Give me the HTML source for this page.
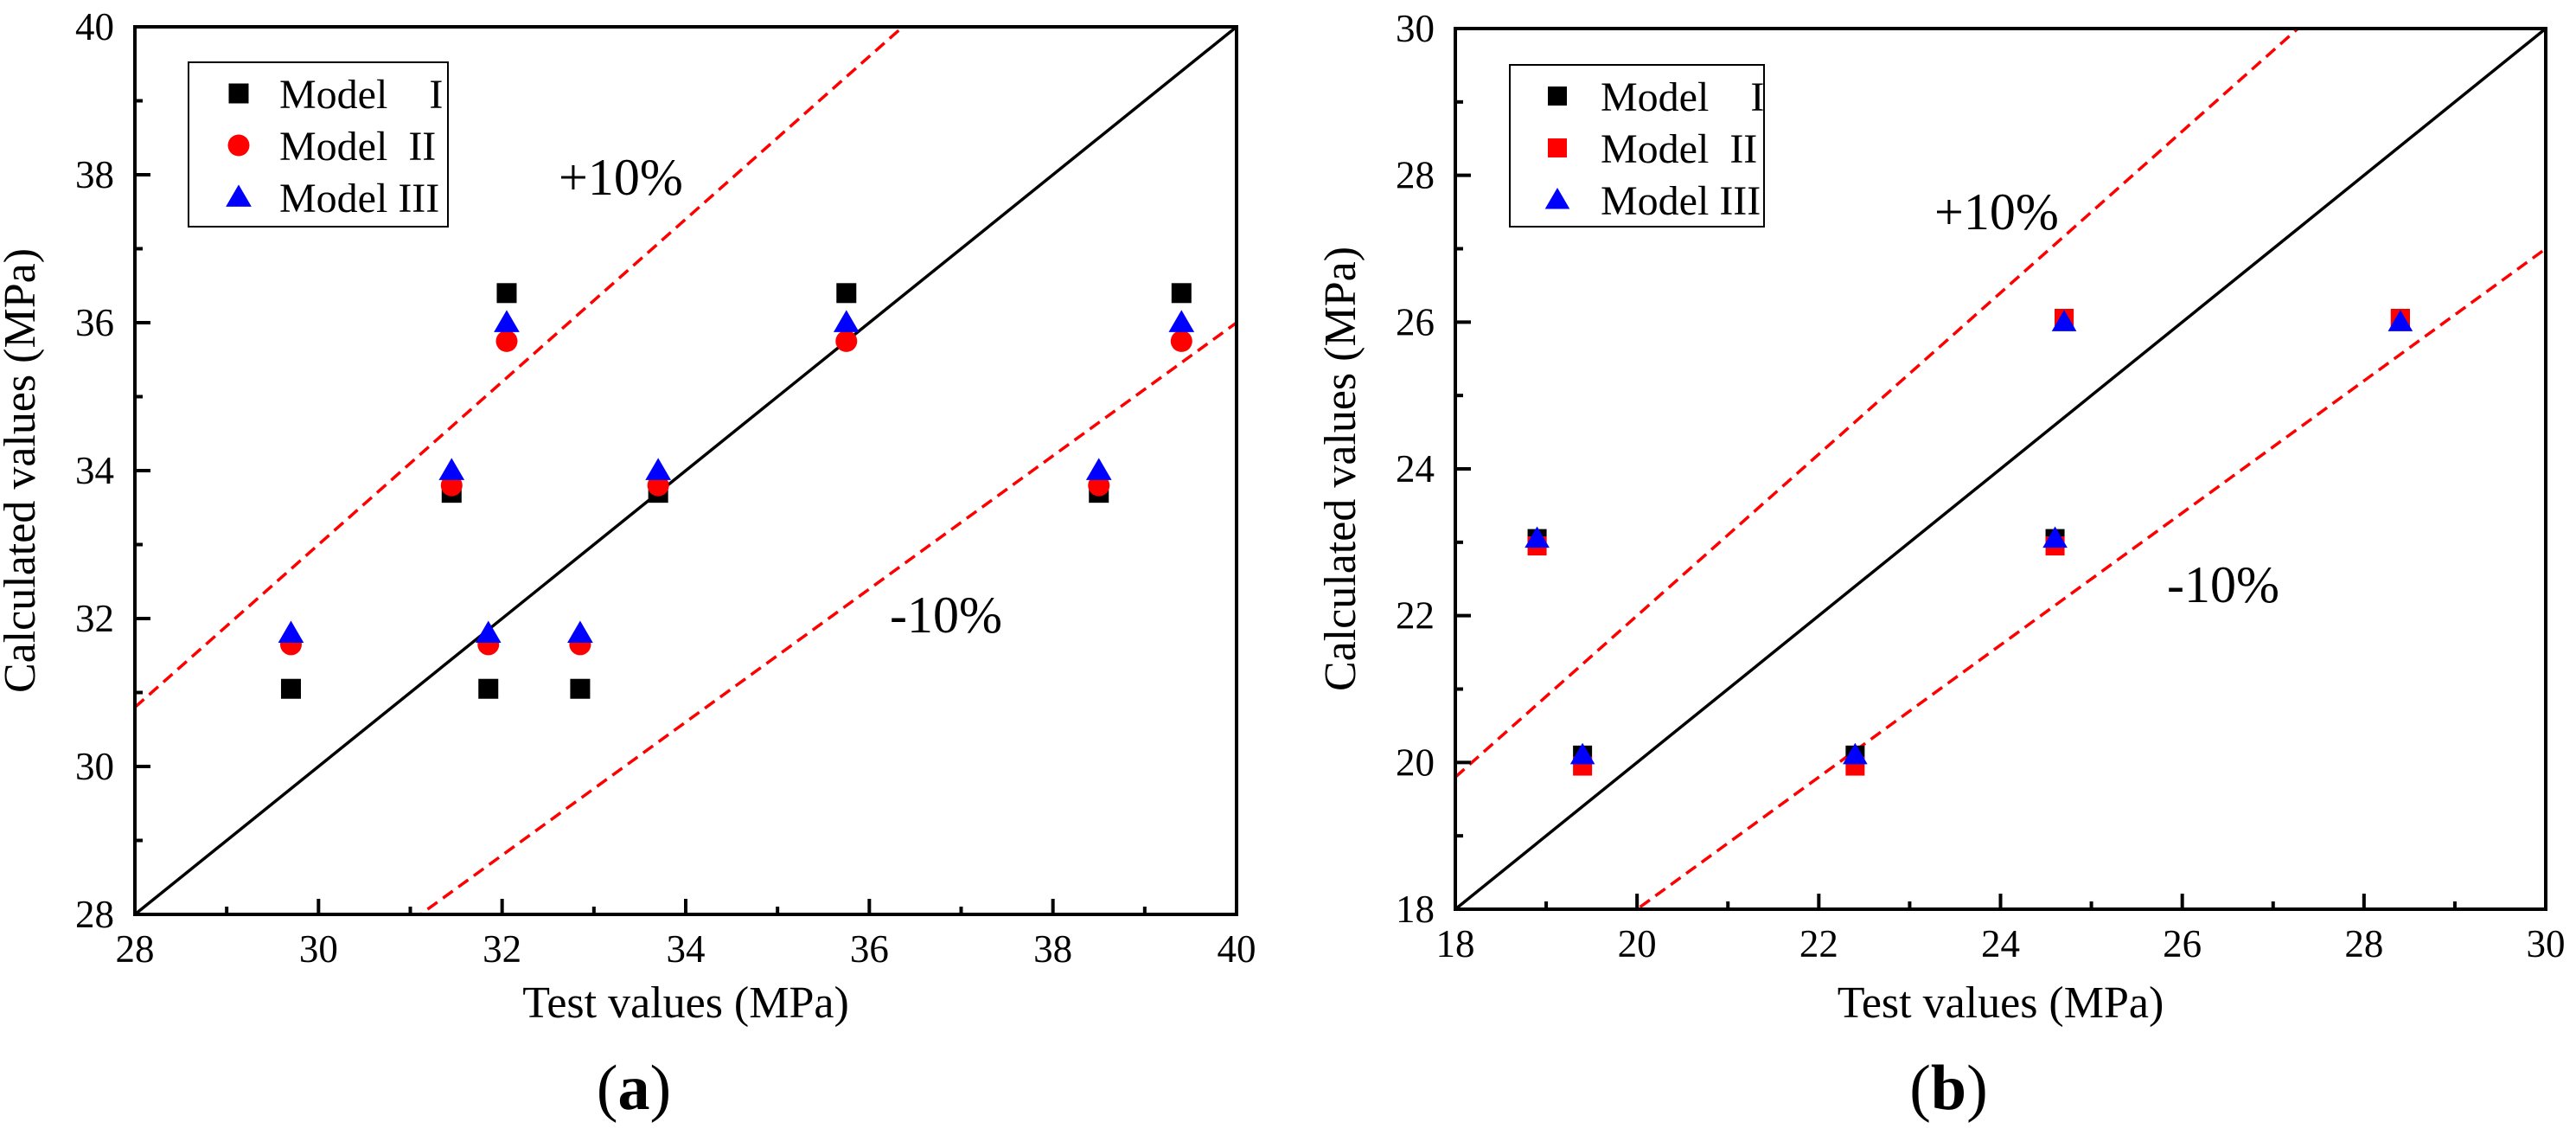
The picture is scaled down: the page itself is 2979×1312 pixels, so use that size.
<!DOCTYPE html>
<html><head><meta charset="utf-8"><style>
html,body{margin:0;padding:0;background:#fff;}
svg, svg text{font-family:"Liberation Serif","DejaVu Serif",serif;}
</style></head><body>
<svg id="c" width="2979" height="1307" viewBox="0 0 2979 1307" xmlns="http://www.w3.org/2000/svg" font-family="Liberation Serif, serif"></svg>
<script>
// Panel (a) data
const aX = [29.7, 31.45, 31.85, 32.05, 32.85, 33.7, 35.75, 38.5, 39.4];
const aModel1 = [31.05, 33.7, 31.05, 36.4, 31.05, 33.7, 36.4, 33.7, 36.4];
const aModel2 = [31.65, 33.8, 31.65, 35.75, 31.65, 33.8, 35.75, 33.8, 35.75];
const aModel3 = [31.8, 34.0, 31.8, 36.0, 31.8, 34.0, 36.0, 34.0, 36.0];
const aTicks = [28, 30, 32, 34, 36, 38, 40];
// Panel (b) data
const bX = [18.9, 19.4, 22.4, 24.6, 24.7, 28.4];
const bModel1 = [23.05, 20.1, 20.1, 23.05, 26.05, 26.05];
const bModel2 = [22.95, 19.95, 19.95, 22.95, 26.05, 26.05];
const bModel3 = [23.05, 20.1, 20.1, 23.05, 26.0, 26.0];
const bTicks = [18, 20, 22, 24, 26, 28, 30];

const NS = "http://www.w3.org/2000/svg";
const svg = document.getElementById('c');
function mk(tag, attrs, parent, text) {
  const e = document.createElementNS(NS, tag);
  for (const k in attrs) e.setAttribute(k, attrs[k]);
  if (tag === 'text') e.setAttribute('font-family', '"Liberation Serif", serif');
  if (text !== undefined) e.textContent = text;
  (parent || svg).appendChild(e);
  return e;
}

function panel(cfg) {
  const g = mk('g', {});
  
  
  const {L, R, T, B, min, max} = cfg;
  const sx = v => L + (v - min) / (max - min) * (R - L);
  const sy = v => B - (v - min) / (max - min) * (B - T);
  const cid = 'clip' + cfg.id;
  const defs = mk('defs', {}, g);
  const cp = mk('clipPath', {id: cid}, defs);
  mk('rect', {x: L, y: T, width: R - L, height: B - T}, cp);
  const lines = mk('g', {'clip-path': 'url(#' + cid + ')'}, g);
  const l1 = mk('line', {x1: sx(min), y1: sy(min), x2: sx(max), y2: sy(max), stroke: '#000', 'stroke-width': 3.5}, lines);
  
  
  const lp = mk('line', {x1: sx(min), y1: sy(min * 1.1), x2: sx(max), y2: sy(max * 1.1), stroke: '#f00', 'stroke-width': 3.5, 'stroke-dasharray': '14 8'}, lines);
  
  
  const lm = mk('line', {x1: sx(min), y1: sy(min * 0.9), x2: sx(max), y2: sy(max * 0.9), stroke: '#f00', 'stroke-width': 3.5, 'stroke-dasharray': '14 8'}, lines);
  
  

  const ms = cfg.ms;
  function square(x, y, color, s) { return mk('rect', {x: x - s / 2, y: y - s / 2, width: s, height: s, fill: color}, g); }
  function circle(x, y, color, s) { return mk('circle', {cx: x, cy: y, r: s / 2 + 1, fill: color}, g); }
  function tri(x, y, color, s) {
    const h = s * 0.9;
    return mk('polygon', {points: `${x},${y - h * 0.6} ${x - s * 0.55},${y + h * 0.45} ${x + s * 0.55},${y + h * 0.45}`, fill: color}, g);
  }
  const shape2 = cfg.m2shape === 'circle' ? circle : square;
  cfg.xs.forEach((xv, i) => {
    const a = square(sx(xv), sy(cfg.m1[i]), '#000', ms);
    
    
  });
  cfg.xs.forEach((xv, i) => {
    const a = shape2(sx(xv), sy(cfg.m2[i]), '#f00', ms);
    
    
  });
  cfg.xs.forEach((xv, i) => {
    const a = tri(sx(xv), sy(cfg.m3[i]), '#00f', ms + 4);
    
    
  });

  const fr = mk('rect', {x: L, y: T, width: R - L, height: B - T, fill: 'none', stroke: '#000', 'stroke-width': 4}, g);
  
  
  for (let v = min; v <= max; v += 1) {
    const major = (v - min) % 2 === 0;
    const len = major ? 18 : 9;
    if (v !== min && v !== max) {
      mk('line', {x1: sx(v), y1: B, x2: sx(v), y2: B - len, stroke: '#000', 'stroke-width': 4}, g);
      mk('line', {x1: L, y1: sy(v), x2: L + len, y2: sy(v), stroke: '#000', 'stroke-width': 4}, g);
    }
  }
  cfg.ticks.forEach(v => {
    const tx = mk('text', {x: sx(v), y: B + 55, 'font-size': 45, 'text-anchor': 'middle'}, g, String(v));
    
    
    const ty = mk('text', {x: L - 24, y: sy(v) + 15, 'font-size': 45, 'text-anchor': 'end'}, g, String(v));
    
    
  });
  const xt = mk('text', {x: (L + R) / 2, y: 1176, 'font-size': 52, 'text-anchor': 'middle'}, g, 'Test values (MPa)');
  
  
  const yc = (T + B) / 2;
  const yt = mk('text', {x: cfg.ytx, y: yc, 'font-size': 52, 'text-anchor': 'middle', transform: `rotate(-90 ${cfg.ytx} ${yc})`}, g, 'Calculated values (MPa)');
  
  
  const p10 = mk('text', {x: cfg.plusX, y: cfg.plusY, 'font-size': 60}, g, '+10%');
  
  
  const m10 = mk('text', {x: cfg.minusX, y: cfg.minusY, 'font-size': 60}, g, '-10%');
  
  
  const pl = mk('text', {x: (L + R) / 2 - 60, y: 1282, 'font-size': 74, 'text-anchor': 'middle'}, g);
  
  
  mk('tspan', {}, pl, '(');
  mk('tspan', {'font-weight': 'bold'}, pl, cfg.id);
  mk('tspan', {}, pl, ')');

  const lg = mk('g', {}, g);
  
  
  const lb = cfg.leg;
  mk('rect', {x: lb.x, y: lb.y, width: lb.w, height: lb.h, fill: '#fff', stroke: '#000', 'stroke-width': 2}, lg);
  const names = ['Model\u2003I', 'Model\u2002II', 'Model III'];
  const ys = [lb.y + 36, lb.y + 96, lb.y + 156];
  let e;
  e = square(lb.mx, ys[0], '#000', ms); e.remove(); lg.appendChild(e);
   
  e = shape2(lb.mx, ys[1], '#f00', ms); e.remove(); lg.appendChild(e);
   
  e = tri(lb.mx, ys[2], '#00f', ms + 4); e.remove(); lg.appendChild(e);
   
  names.forEach((n, i) => {
    const t = mk('text', {x: lb.tx, y: ys[i] + 17, 'font-size': 48}, lg, n);
    
    
  });
}

panel({id: 'a', name: 'panel-a-chart', L: 156, R: 1430, T: 31, B: 1057, min: 28, max: 40,
  xs: aX, m1: aModel1, m2: aModel2, m3: aModel3, ticks: aTicks, m2shape: 'circle', ms: 23,
  ytx: 40, plusX: 646, plusY: 225, minusX: 1029, minusY: 731,
  leg: {x: 218, y: 72, w: 300, h: 190, mx: 276, tx: 323}});
panel({id: 'b', name: 'panel-b-chart', L: 1683, R: 2944, T: 33, B: 1051, min: 18, max: 30,
  xs: bX, m1: bModel1, m2: bModel2, m3: bModel3, ticks: bTicks, m2shape: 'square', ms: 22,
  ytx: 1567, plusX: 2237, plusY: 265, minusX: 2506, minusY: 696,
  leg: {x: 1746, y: 75, w: 294, h: 187, mx: 1801, tx: 1851}});
</script>
</body></html>
